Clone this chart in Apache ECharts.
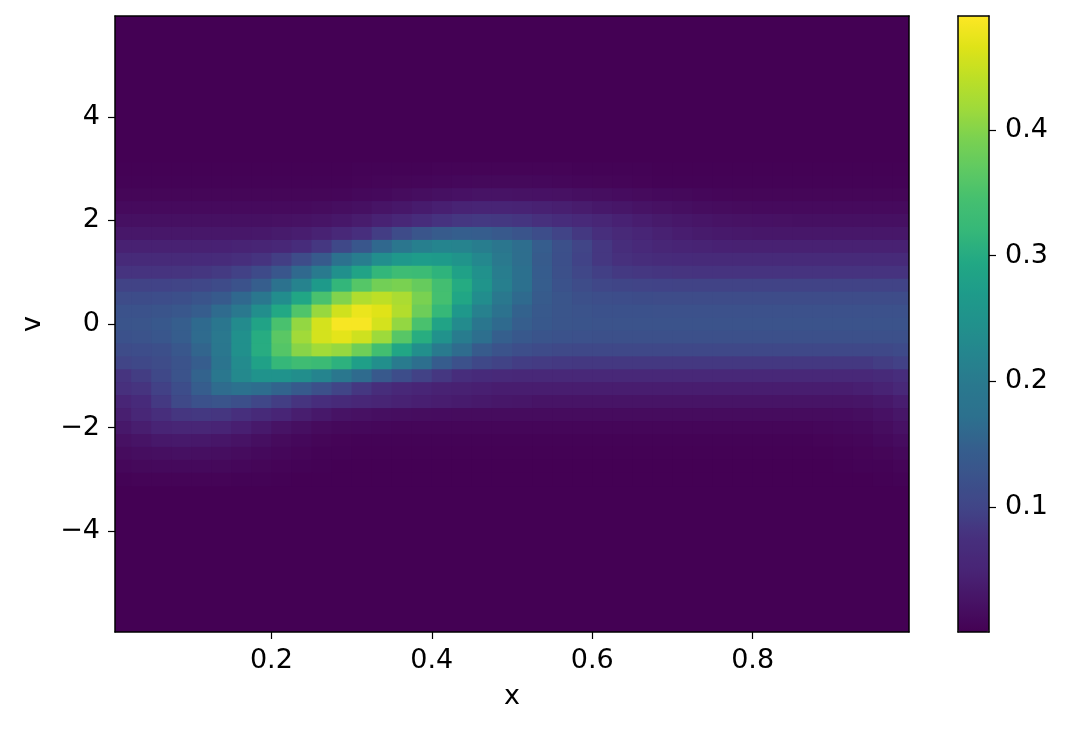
<!DOCTYPE html>
<html>
<head>
<meta charset="utf-8">
<title>f(x, v)</title>
<script src="https://cdn.jsdelivr.net/npm/echarts@6/dist/echarts.min.js"></script>
<style>
  html, body { margin: 0; padding: 0; background: #fff; }
  #chart { width: 1070px; height: 730px; }
</style>
</head>
<body>
<div id="chart"></div>
<script>
// cell centres along x (cell width 0.025) and along v (cell height 0.25)
const xCenters = [0.0125, 0.0375, 0.0625, 0.0875, 0.1125, 0.1375, 0.1625, 0.1875, 0.2125, 0.2375,
  0.2625, 0.2875, 0.3125, 0.3375, 0.3625, 0.3875, 0.4125, 0.4375, 0.4625, 0.4875,
  0.5125, 0.5375, 0.5625, 0.5875, 0.6125, 0.6375, 0.6625, 0.6875, 0.7125, 0.7375,
  0.7625, 0.7875, 0.8125, 0.8375, 0.8625, 0.8875, 0.9125, 0.9375, 0.9625, 0.9875]
const vLevels = [3, 2.75, 2.5, 2.25, 2, 1.75, 1.5, 1.25, 1, 0.75, 0.5, 0.25, 0,
  -0.25, -0.5, -0.75, -1, -1.25, -1.5, -1.75, -2, -2.25, -2.5, -2.75, -3]

// density, one row per v level (top to bottom)
const density = [
  [.002,.002,.002,.002,.002,.002,.002,.002,.002,.002,.002,.002,.003,.003,.004,.004,.005,.005,.005,.005,.005,.005,.005,.004,.004,.003,.003,.002,.002,.002,.002,.002,.002,.002,.002,.002,.002,.002,.002,.002],
  [.003,.003,.003,.003,.003,.003,.003,.003,.003,.003,.003,.004,.005,.006,.007,.008,.009,.010,.011,.011,.011,.010,.009,.008,.007,.006,.005,.004,.003,.003,.003,.003,.003,.003,.003,.003,.003,.003,.003,.003],
  [.007,.007,.007,.007,.007,.007,.007,.007,.007,.007,.007,.008,.010,.012,.015,.018,.021,.023,.025,.025,.024,.023,.022,.020,.018,.016,.014,.012,.011,.009,.008,.007,.007,.007,.007,.007,.007,.007,.007,.007],
  [.013,.013,.013,.013,.013,.013,.013,.013,.013,.013,.015,.018,.021,.026,.031,.037,.043,.048,.050,.050,.048,.045,.042,.038,.033,.029,.025,.022,.019,.017,.015,.014,.013,.013,.013,.013,.013,.013,.013,.013],
  [.021,.021,.021,.021,.021,.021,.021,.021,.022,.024,.027,.031,.038,.047,.057,.068,.078,.084,.086,.085,.081,.075,.068,.061,.054,.046,.040,.035,.031,.028,.025,.024,.023,.022,.021,.021,.021,.021,.021,.021],
  [.031,.031,.031,.031,.031,.031,.031,.033,.036,.040,.047,.059,.073,.091,.110,.128,.141,.146,.144,.137,.127,.114,.099,.085,.072,.060,.052,.045,.040,.036,.034,.032,.031,.031,.031,.031,.031,.031,.031,.031],
  [.045,.045,.045,.045,.045,.046,.048,.051,.057,.067,.083,.105,.131,.160,.188,.209,.219,.218,.207,.190,.168,.144,.120,.100,.083,.069,.061,.054,.050,.048,.046,.045,.045,.045,.045,.045,.045,.045,.045,.045],
  [.062,.062,.062,.062,.064,.066,.071,.079,.092,.112,.139,.172,.207,.239,.262,.272,.267,.252,.227,.199,.168,.141,.117,.098,.084,.075,.069,.066,.064,.063,.062,.062,.062,.062,.062,.062,.062,.062,.062,.062],
  [.079,.079,.079,.080,.082,.087,.095,.109,.130,.161,.200,.243,.286,.317,.334,.330,.312,.282,.245,.207,.171,.142,.119,.103,.093,.086,.083,.081,.080,.079,.079,.079,.079,.079,.079,.079,.079,.079,.079,.079],
  [.097,.097,.098,.100,.103,.111,.124,.145,.177,.217,.267,.317,.360,.386,.392,.375,.342,.299,.252,.209,.171,.144,.124,.112,.104,.101,.099,.098,.097,.097,.097,.097,.097,.097,.097,.097,.097,.097,.097,.097],
  [.112,.113,.115,.118,.126,.139,.160,.193,.237,.290,.348,.397,.431,.442,.427,.392,.344,.290,.237,.195,.163,.141,.128,.120,.116,.114,.113,.112,.112,.112,.112,.112,.112,.112,.112,.112,.112,.112,.112,.112],
  [.123,.124,.126,.132,.144,.164,.195,.240,.294,.355,.412,.455,.476,.467,.433,.381,.321,.262,.213,.176,.152,.137,.128,.125,.122,.122,.122,.121,.121,.121,.121,.121,.121,.121,.121,.121,.121,.121,.121,.121],
  [.127,.129,.135,.145,.163,.191,.233,.286,.348,.409,.458,.486,.486,.458,.409,.348,.286,.233,.191,.163,.145,.135,.129,.127,.125,.125,.125,.125,.125,.125,.125,.125,.125,.125,.125,.125,.125,.125,.125,.125],
  [.122,.125,.131,.144,.164,.197,.244,.301,.364,.419,.458,.470,.454,.416,.362,.303,.248,.204,.170,.148,.134,.127,.123,.121,.120,.120,.120,.120,.120,.120,.120,.120,.120,.120,.120,.120,.120,.120,.120,.120],
  [.112,.114,.118,.132,.156,.194,.244,.302,.359,.402,.420,.411,.383,.341,.291,.242,.200,.165,.141,.125,.116,.110,.107,.105,.105,.105,.105,.105,.105,.105,.105,.105,.105,.105,.105,.105,.105,.105,.106,.109],
  [.100,.105,.112,.125,.144,.183,.233,.281,.319,.335,.329,.309,.278,.241,.203,.169,.142,.121,.106,.097,.091,.088,.086,.085,.085,.085,.085,.085,.085,.085,.085,.085,.085,.085,.085,.085,.085,.085,.090,.095],
  [.080,.090,.105,.125,.153,.193,.229,.250,.251,.240,.219,.193,.164,.137,.114,.096,.083,.070,.064,.061,.059,.058,.058,.058,.058,.058,.058,.058,.058,.058,.058,.058,.058,.058,.058,.058,.058,.058,.062,.070],
  [.075,.080,.095,.115,.144,.165,.172,.167,.155,.138,.119,.100,.083,.069,.059,.052,.047,.045,.043,.040,.040,.040,.040,.040,.040,.040,.040,.040,.040,.040,.040,.040,.040,.040,.040,.040,.040,.043,.048,.058],
  [.052,.064,.086,.107,.122,.126,.118,.104,.092,.080,.070,.062,.056,.051,.047,.043,.040,.037,.034,.031,.029,.027,.026,.026,.026,.026,.026,.026,.026,.026,.026,.026,.026,.026,.026,.026,.026,.028,.033,.040],
  [.042,.056,.071,.082,.085,.082,.074,.063,.052,.041,.032,.025,.022,.020,.018,.017,.016,.015,.015,.015,.015,.015,.015,.015,.015,.015,.015,.015,.015,.015,.015,.015,.015,.015,.015,.015,.016,.018,.023,.030],
  [.032,.041,.049,.054,.054,.050,.043,.034,.025,.019,.014,.011,.010,.009,.008,.008,.008,.008,.008,.008,.008,.008,.008,.008,.008,.008,.008,.008,.008,.008,.008,.008,.008,.008,.008,.009,.010,.012,.017,.023],
  [.022,.027,.032,.034,.033,.030,.025,.019,.014,.010,.007,.005,.004,.004,.004,.004,.004,.004,.004,.004,.004,.004,.004,.004,.004,.004,.004,.004,.004,.004,.004,.004,.004,.004,.004,.005,.006,.008,.012,.016],
  [.015,.018,.020,.021,.020,.018,.015,.012,.009,.006,.004,.003,.002,.002,.002,.002,.002,.002,.002,.002,.002,.002,.002,.002,.002,.002,.002,.002,.002,.002,.002,.002,.002,.002,.002,.002,.003,.005,.007,.010],
  [.009,.011,.012,.012,.012,.011,.009,.007,.005,.004,.002,.001,.001,.001,.001,.001,.001,.001,.001,.001,.001,.001,.001,.001,.001,.001,.001,.001,.001,.001,.001,.001,.001,.001,.001,.001,.002,.003,.004,.006],
  [.004,.005,.005,.005,.005,.005,.004,.003,.002,.001,.001,.001,.001,.001,.001,.001,.001,.001,.001,.001,.001,.001,.001,.001,.001,.001,.001,.001,.001,.001,.001,.001,.001,.001,.001,.001,.001,.001,.002,.003]
]

const xTicks = [0.2, 0.4, 0.6, 0.8]
const vTicks = [-4, -2, 0, 2, 4]
const cbTicks = [0.1, 0.2, 0.3, 0.4]
const fMin = 0.0006
const fMax = 0.4907

const CELL_W = 0.025
const CELL_H = 0.25

const viridis = ['#440154', '#471365', '#482475', '#472f7d', '#414487', '#3b528b', '#355f8d',
  '#2c718e', '#2a788e', '#25858e', '#21918c', '#1e9b8a', '#22a884', '#35b779', '#44bf70',
  '#5ec962', '#7ad151', '#9fda3a', '#bddf26', '#dfe318', '#fde725']

const cells = []
vLevels.forEach((v, j) => {
  xCenters.forEach((x, i) => {
    cells.push([x, v, density[j][i]])
  })
})

const FONT = 'DejaVu Sans'
const FS = 27
const black = '#000'
const frameLine = { show: true, onZero: false, lineStyle: { color: black, width: 1.5 } }
const bare = {
  axisLine: frameLine,
  axisTick: { show: false },
  axisLabel: { show: false },
  splitLine: { show: false },
  z: 10
}
const minus = (val) => (val < 0 ? '\u2212' + Math.abs(val) : String(val))

const chart = echarts.init(document.getElementById('chart'))

chart.setOption({
  animation: false,
  backgroundColor: '#fff',
  textStyle: { fontFamily: FONT },
  grid: [
    { left: 115, top: 16, width: 794, height: 616, show: true, backgroundColor: '#440154', borderWidth: 0 },
    { left: 958, top: 16, width: 31, height: 616, show: false }
  ],
  xAxis: [
    {
      gridIndex: 0, type: 'value', min: 0.005, max: 0.995, position: 'bottom', z: 10,
      axisLine: frameLine,
      axisTick: { length: 7, lineStyle: { color: black, width: 1.2 }, customValues: xTicks },
      axisLabel: { customValues: xTicks, fontSize: FS, color: black, margin: 15, formatter: (val) => val.toFixed(1) },
      splitLine: { show: false },
      name: 'x', nameLocation: 'middle', nameGap: 51,
      nameTextStyle: { fontSize: FS, color: black, fontFamily: FONT }
    },
    Object.assign({ gridIndex: 0, type: 'value', min: 0.005, max: 0.995, position: 'top' }, bare),
    Object.assign({ gridIndex: 1, type: 'value', min: 0, max: 1, position: 'bottom' }, bare),
    Object.assign({ gridIndex: 1, type: 'value', min: 0, max: 1, position: 'top' }, bare)
  ],
  yAxis: [
    {
      gridIndex: 0, type: 'value', min: -5.95, max: 5.95, position: 'left', z: 10,
      axisLine: frameLine,
      axisTick: { length: 7, lineStyle: { color: black, width: 1.2 }, customValues: vTicks },
      axisLabel: { customValues: vTicks, fontSize: FS, color: black, margin: 15, formatter: minus },
      splitLine: { show: false },
      name: 'v', nameLocation: 'middle', nameGap: 69, nameRotate: 90,
      nameTextStyle: { fontSize: FS, color: black, fontFamily: FONT }
    },
    Object.assign({ gridIndex: 0, type: 'value', min: -5.95, max: 5.95, position: 'right' }, bare),
    {
      gridIndex: 1, type: 'value', min: fMin, max: fMax, position: 'right', z: 10,
      axisLine: frameLine,
      axisTick: { length: 7, lineStyle: { color: black, width: 1.2 }, customValues: cbTicks },
      axisLabel: { customValues: cbTicks, fontSize: FS, color: black, margin: 16, formatter: (val) => val.toFixed(1) },
      splitLine: { show: false }
    },
    Object.assign({ gridIndex: 1, type: 'value', min: fMin, max: fMax, position: 'left' }, bare)
  ],
  visualMap: {
    type: 'continuous',
    min: fMin,
    max: fMax,
    dimension: 2,
    seriesIndex: 0,
    inRange: { color: viridis },
    calculable: false,
    hoverLink: false,
    orient: 'vertical',
    left: 958,
    top: 16,
    padding: 0,
    itemWidth: 31,
    itemHeight: 616,
    text: null
  },
  series: [
    {
      type: 'custom',
      xAxisIndex: 0,
      yAxisIndex: 0,
      data: cells,
      encode: { x: 0, y: 1 },
      clip: true,
      silent: true,
      renderItem: (params, api) => {
        const x = api.value(0)
        const v = api.value(1)
        const p0 = api.coord([x - CELL_W / 2, v + CELL_H / 2])
        const p1 = api.coord([x + CELL_W / 2, v - CELL_H / 2])
        return {
          type: 'rect',
          shape: { x: p0[0], y: p0[1], width: p1[0] - p0[0] + 0.7, height: p1[1] - p0[1] + 0.7 },
          style: { fill: api.visual('color') }
        }
      }
    }
  ]
})
</script>
</body>
</html>
